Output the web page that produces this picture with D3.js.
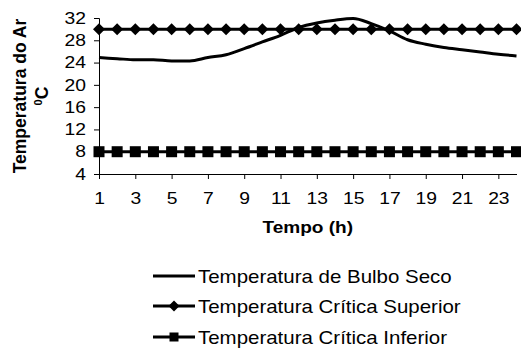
<!DOCTYPE html>
<html>
<head>
<meta charset="utf-8">
<script src="https://cdn.jsdelivr.net/npm/d3@7"></script>
<style>
  html, body { margin: 0; padding: 0; background: #fff; }
  svg { display: block; font-family: "Liberation Sans", Arial, sans-serif; }
</style>
</head>
<body>
<svg id="chart" width="521" height="354"></svg>
<script>
// Hourly air temperature against the upper and lower critical limits
const hours = d3.range(1, 25);
const bulboSeco = [24.9, 24.7, 24.5, 24.5, 24.3, 24.3, 24.9, 25.4, 26.5, 27.7, 28.9, 30.3,
                   31.1, 31.6, 31.9, 31.0, 29.7, 28.1, 27.3, 26.7, 26.3, 25.9, 25.5, 25.2];
const criticaSuperior = hours.map(() => 30);
const criticaInferior = hours.map(() => 8);
const yTicks = [4, 8, 12, 16, 20, 24, 28, 32];
const xTickLabels = [1, 3, 5, 7, 9, 11, 13, 15, 17, 19, 21, 23];
const seriesNames = ["Temperatura de Bulbo Seco", "Temperatura Crítica Superior", "Temperatura Crítica Inferior"];

const svg = d3.select("#chart");
const plot = { left: 99, right: 516.5, top: 18, bottom: 174 };
const wide = 1.17; // horizontal text stretch

const x = d3.scaleLinear().domain([1, 24]).range([plot.left, plot.right]);
const y = d3.scaleLinear().domain([4, 32]).range([plot.bottom, plot.top]);

// Axes
const yAxis = d3.axisLeft(y).tickValues(yTicks).tickSize(5).tickPadding(8);
const gy = svg.append("g").attr("transform", `translate(${plot.left},0)`).call(yAxis);
gy.select(".domain").attr("stroke", "#000").attr("stroke-width", 1);
gy.selectAll(".tick line").attr("stroke", "#000");
gy.selectAll(".tick text").attr("font-size", 16.5).attr("fill", "#000")
  .attr("font-family", "Liberation Sans, Arial, sans-serif")
  .attr("x", 0).attr("transform", `translate(-13,0) scale(${wide},1)`);

const xAxis = d3.axisBottom(x).tickValues(xTickLabels).tickSize(5).tickPadding(13)
  .tickSizeOuter(0);
const gx = svg.append("g").attr("transform", `translate(0,${plot.bottom})`).call(xAxis);
gx.select(".domain").attr("stroke", "#000").attr("stroke-width", 1);
gx.selectAll(".tick line").attr("stroke", "#000");
gx.selectAll(".tick text").attr("font-size", 16.5).attr("fill", "#000")
  .attr("font-family", "Liberation Sans, Arial, sans-serif")
  .attr("transform", `scale(${wide},1)`);

// Axis titles
svg.append("text")
  .attr("transform", `translate(26,${(plot.top + plot.bottom) / 2}) rotate(-90)`)
  .attr("text-anchor", "middle").attr("font-weight", "bold").attr("font-size", 17.5)
  .text("Temperatura do Ar");
const unit = svg.append("text")
  .attr("transform", `translate(48,${(plot.top + plot.bottom) / 2}) rotate(-90)`)
  .attr("text-anchor", "middle").attr("font-weight", "bold").attr("font-size", 17.5);
unit.append("tspan").attr("font-size", 11).attr("dy", -6).text("0");
unit.append("tspan").attr("dy", 6).text("C");

svg.append("text")
  .attr("transform", `translate(${(plot.left + plot.right) / 2},233) scale(${wide},1)`)
  .attr("text-anchor", "middle").attr("font-weight", "bold").attr("font-size", 16.3)
  .text("Tempo (h)");

// Series
const line = d3.line().x((d, i) => x(hours[i])).y(d => y(d)).curve(d3.curveMonotoneX);
const straight = d3.line().x((d, i) => x(hours[i])).y(d => y(d));
const diamondPath = (w) => `M0,${-w}L${w},0L0,${w}L${-w},0Z`;

svg.append("path").datum(bulboSeco).attr("d", line)
  .attr("fill", "none").attr("stroke", "#000").attr("stroke-width", 3);

svg.append("path").datum(criticaSuperior).attr("d", straight)
  .attr("fill", "none").attr("stroke", "#000").attr("stroke-width", 3);
svg.append("g").selectAll("path").data(criticaSuperior).join("path")
  .attr("transform", (d, i) => `translate(${x(hours[i])},${y(d)})`)
  .attr("d", diamondPath(6)).attr("fill", "#000");

svg.append("path").datum(criticaInferior).attr("d", straight)
  .attr("fill", "none").attr("stroke", "#000").attr("stroke-width", 3);
svg.append("g").selectAll("rect").data(criticaInferior).join("rect")
  .attr("x", (d, i) => x(hours[i]) - 5.5).attr("y", d => y(d) - 5.5)
  .attr("width", 11).attr("height", 11).attr("fill", "#000");

// Legend
const legend = svg.append("g");
const rowY = [276, 306, 337];
seriesNames.forEach((name, i) => {
  const g = legend.append("g").attr("transform", `translate(0,${rowY[i]})`);
  g.append("line").attr("x1", 153).attr("x2", 195).attr("y1", 0).attr("y2", 0)
    .attr("stroke", "#000").attr("stroke-width", 3);
  if (i === 1) g.append("path").attr("transform", "translate(174,0)").attr("d", diamondPath(5.5)).attr("fill", "#000");
  if (i === 2) g.append("rect").attr("x", 169.5).attr("y", -4.5).attr("width", 9).attr("height", 9).attr("fill", "#000");
  g.append("text").attr("transform", `translate(198,6.5) scale(${wide},1)`)
    .attr("font-size", 17.5).text(name);
});
</script>
</body>
</html>
